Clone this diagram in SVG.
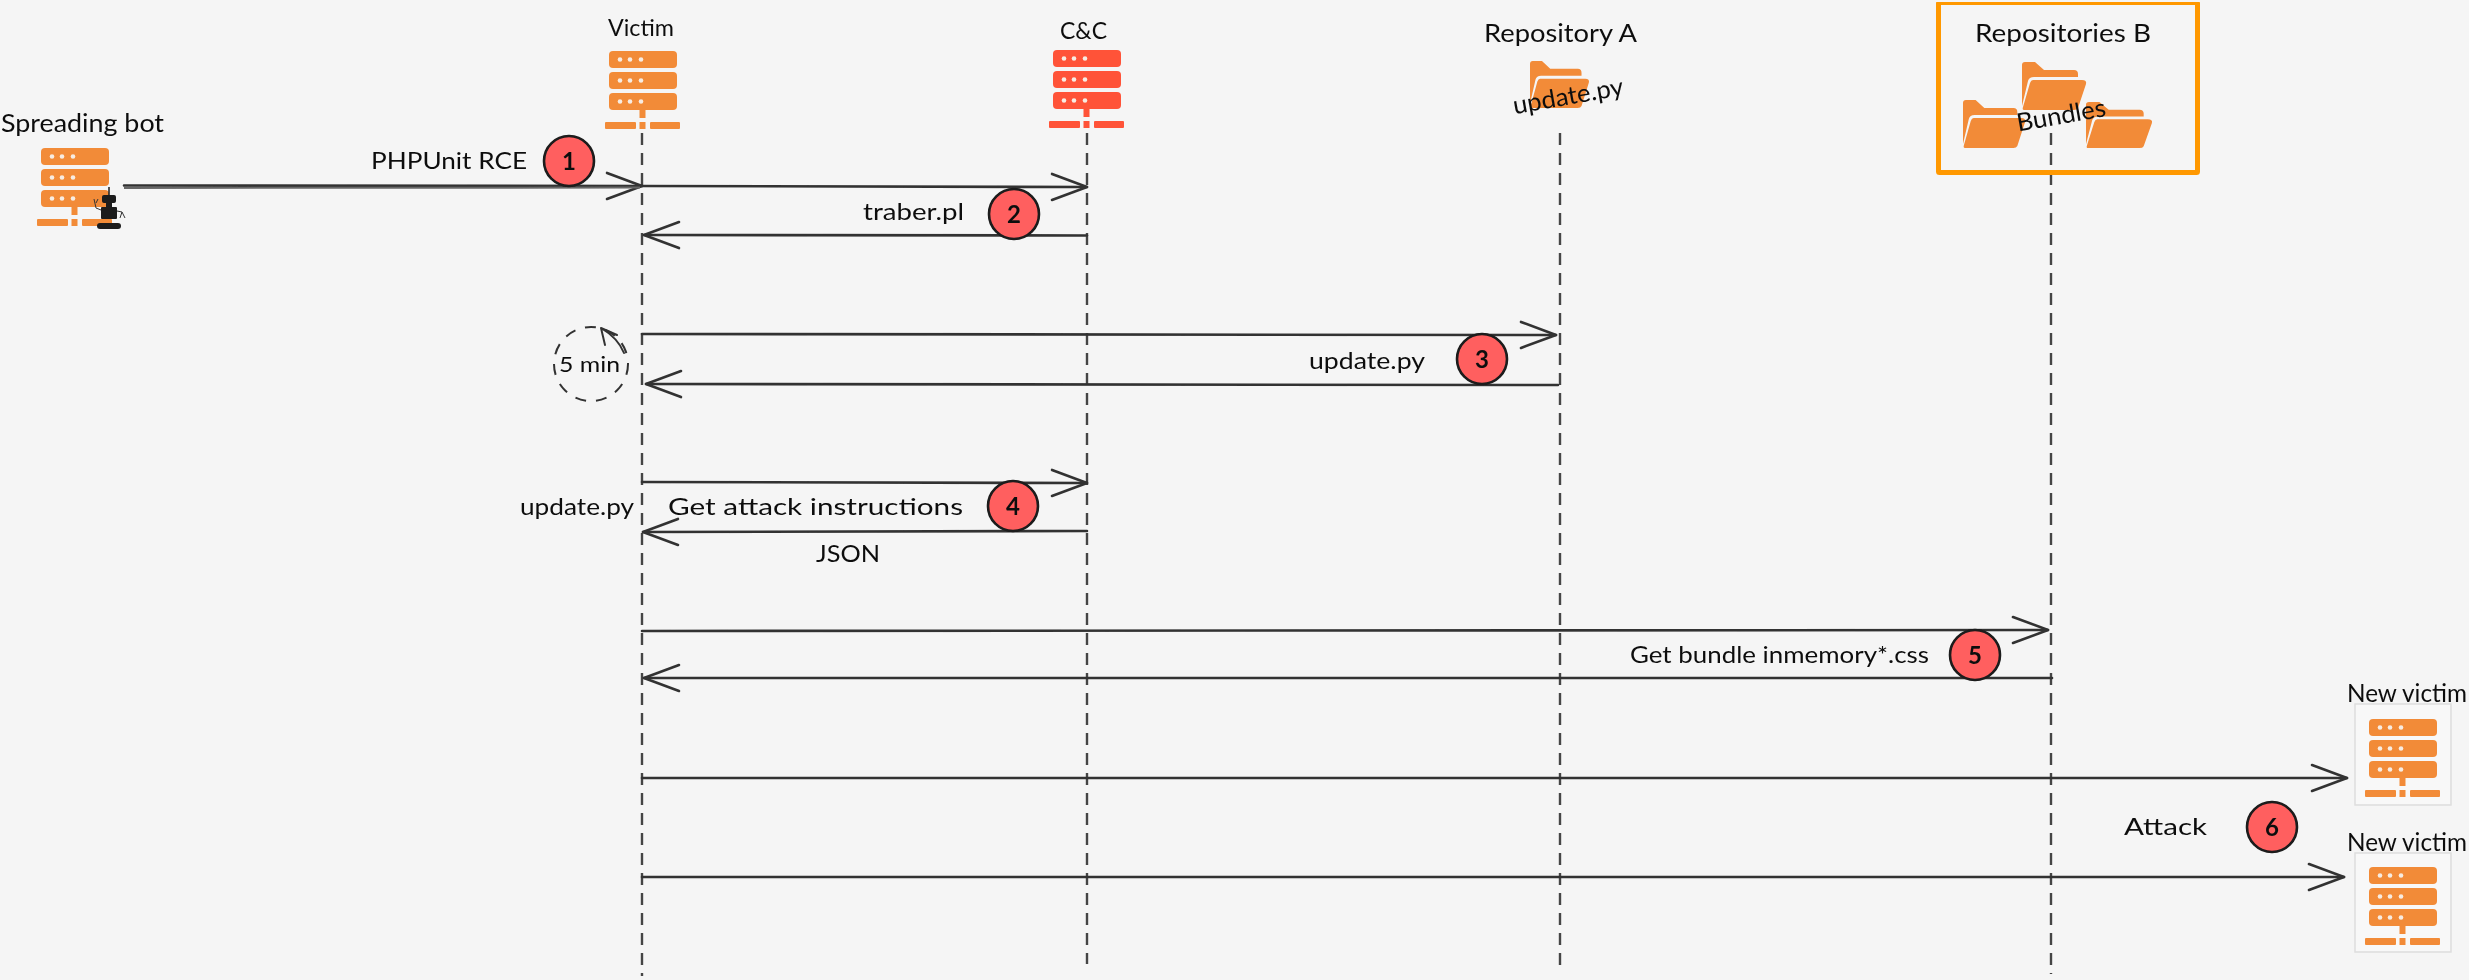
<svg xmlns="http://www.w3.org/2000/svg" width="2469" height="980" viewBox="0 0 2469 980">
<style>
text{font-family:"Lato","Noto Sans","Liberation Sans",sans-serif;fill:#111;font-size:24px;font-weight:400}
.big{font-size:25px}
.num{font-size:24px;text-anchor:middle;font-weight:700}
.life{fill:none;stroke:#444;stroke-width:2.4;stroke-dasharray:12 8}
.msg{fill:none;stroke:#333;stroke-width:2.6;stroke-linecap:round;marker-end:url(#open)}
.badge{fill:#ff5f5f;stroke:#1a1a1a;stroke-width:2.6}
.o{fill:#f28b38}.r{fill:#ff5238}
.card{fill:#f8f8f8;stroke:#ddd;stroke-width:1.5}
.dot{fill:#f7ece2}
</style>
<defs>
<filter id="soft" x="0" y="0" width="100%" height="100%"><feGaussianBlur stdDeviation="0.55"/></filter>
<marker id="open" markerUnits="userSpaceOnUse" markerWidth="50" markerHeight="40" refX="37" refY="15" orient="auto" overflow="visible">
<path d="M2 2L37 15L2 28" fill="none" stroke="#333" stroke-width="2.6" stroke-linecap="round" stroke-linejoin="round"/>
</marker>
<g id="srv">
<rect x="0" y="0" width="68" height="17" rx="4"/>
<rect x="0" y="21" width="68" height="17" rx="4"/>
<rect x="0" y="42" width="68" height="17" rx="4"/>
<rect x="30.500" y="59" width="6" height="8"/>
<rect x="-4" y="71" width="31" height="7" rx="1"/>
<rect x="30.500" y="71" width="6" height="7"/>
<rect x="41" y="71" width="30" height="7" rx="1"/>
<g class="dot">
<circle cx="11" cy="8.500" r="2.300"/><circle cx="21" cy="8.500" r="2.300"/><circle cx="32" cy="8.500" r="2.300"/>
<circle cx="11" cy="29.500" r="2.300"/><circle cx="21" cy="29.500" r="2.300"/><circle cx="32" cy="29.500" r="2.300"/>
<circle cx="11" cy="50.500" r="2.300"/><circle cx="21" cy="50.500" r="2.300"/><circle cx="32" cy="50.500" r="2.300"/>
</g>
</g>
<g id="fold">
<path d="M0 3Q0 0 3 0H13L22 8H52Q56 8 56 12V15H12Q7 15 6 19L0 44Z"/>
<path d="M11 18H60Q65 18 64 22L56 46Q55 48 52 48H2Q0 48 1 45L8 21Q9 18 11 18Z"/>
</g>
</defs>
<rect width="2469" height="980" fill="#f5f5f5"/>
<g filter="url(#soft)">
<g id="connectors">
<path class="life" d="M642 133V976"/>
<path class="life" d="M1087 133V964"/>
<path class="life" d="M1560 133V968"/>
<path class="life" d="M2051 133V974"/>
<path class="msg" d="M124 185.500L642 186"/>
<path d="M124 188L640 187.500" fill="none" stroke="#666" stroke-width="2"/>
<path class="msg" d="M642 186L1087 187"/>
<path class="msg" d="M1087 235.500L644 235"/>
<path class="msg" d="M642 334L1556 335"/>
<path class="msg" d="M1558 385L646 384"/>
<path class="msg" d="M642 482L1087 483"/>
<path class="msg" d="M1087 531L643 532"/>
<path class="msg" d="M642 631L2048 630"/>
<path class="msg" d="M2052 678L644 678"/>
<path class="msg" d="M642 778L2347 778"/>
<path class="msg" d="M642 877L2344 877"/>
</g>

<g id="spreading-bot">
<text x="1" y="132" textLength="163" lengthAdjust="spacingAndGlyphs" class="big">Spreading bot</text>
<use href="#srv" class="o" transform="translate(41 148)"/>
<g id="robot" fill="#1c1c1c">
<path d="M109 187V195" stroke="#1c1c1c" stroke-width="1.500"/>
<rect x="102" y="195" width="14" height="8" rx="2"/>
<rect x="101" y="207" width="16" height="12" rx="1"/>
<rect x="106" y="203" width="6" height="4"/>
<rect x="97" y="223" width="24" height="6" rx="3"/>
<path d="M94 199L96 208L101 210M98 199L96 203M117 211L122 212L125 218M122 212L120 218" fill="none" stroke="#333" stroke-width="1"/>
</g>
</g>

<g id="victim">
<text x="608" y="36" textLength="66" lengthAdjust="spacingAndGlyphs">Victim</text>
<use href="#srv" class="o" transform="translate(609 51)"/>
</g>

<g id="cc">
<text x="1060" y="39" textLength="47" lengthAdjust="spacingAndGlyphs" font-weight="700">C&amp;C</text>
<use href="#srv" class="r" transform="translate(1053 50)"/>
</g>

<g id="repo-a">
<text x="1484" y="42" textLength="153" lengthAdjust="spacingAndGlyphs" class="big">Repository A</text>
<use href="#fold" class="o" transform="translate(1530 61) scale(.92 .98)"/>
<text x="1512" y="105" textLength="112" lengthAdjust="spacingAndGlyphs" class="big" transform="rotate(-10 1566 96)">update.py</text>
</g>

<g id="repos-b">
<rect x="1938.500" y="2.500" width="259" height="170" fill="none" stroke="#ff9800" stroke-width="5" rx="1"/>
<text x="1975" y="42" textLength="176" lengthAdjust="spacingAndGlyphs" class="big">Repositories B</text>
<use href="#fold" class="o" transform="translate(2022 62)"/>
<use href="#fold" class="o" transform="translate(1963 100) scale(.97 1)"/>
<use href="#fold" class="o" transform="translate(2086 102) scale(1.03 .96)"/>
<text x="2016" y="124" textLength="90" lengthAdjust="spacingAndGlyphs" class="big" transform="rotate(-10 2060 115)">Bundles</text>
</g>

<g id="new-victim-1">
<text x="2347" y="702" textLength="120" lengthAdjust="spacingAndGlyphs" class="big">New victim</text>
<rect class="card" x="2355" y="704" width="96" height="101"/>
<use href="#srv" class="o" transform="translate(2369 719)"/>
</g>
<g id="new-victim-2">
<text x="2347" y="851" textLength="120" lengthAdjust="spacingAndGlyphs" class="big">New victim</text>
<rect class="card" x="2355" y="853" width="96" height="99"/>
<use href="#srv" class="o" transform="translate(2369 867)"/>
</g>

<g id="timer">
<circle cx="591" cy="364" r="37" fill="none" stroke="#333" stroke-width="2" stroke-dasharray="11 10"/>
<text x="559" y="372" textLength="61" lengthAdjust="spacingAndGlyphs" style="font-size:22px">5 min</text>
<path d="M624 353Q618 338 601 328M601 328L605 345M601 328L617 335" fill="none" stroke="#333" stroke-width="2" stroke-linecap="round"/>
</g>

<g id="labels">
<text x="371" y="169" textLength="156" lengthAdjust="spacingAndGlyphs">PHPUnit RCE</text>
<text x="863" y="220" textLength="101" lengthAdjust="spacingAndGlyphs">traber.pl</text>
<text x="1309" y="369" textLength="116" lengthAdjust="spacingAndGlyphs">update.py</text>
<text x="520" y="515" textLength="114" lengthAdjust="spacingAndGlyphs">update.py</text>
<text x="668" y="515" textLength="295" lengthAdjust="spacingAndGlyphs">Get attack instructions</text>
<text x="816" y="562" textLength="64" lengthAdjust="spacingAndGlyphs">JSON</text>
<text x="1630" y="663" textLength="299" lengthAdjust="spacingAndGlyphs">Get bundle inmemory*.css</text>
<text x="2124" y="835" textLength="83" lengthAdjust="spacingAndGlyphs">Attack</text>
</g>

<g id="badge-1"><circle class="badge" cx="569" cy="161" r="25"/><text class="num" x="569" y="170">1</text></g>
<g id="badge-2"><circle class="badge" cx="1014" cy="214" r="25"/><text class="num" x="1014" y="223">2</text></g>
<g id="badge-3"><circle class="badge" cx="1482" cy="359" r="25"/><text class="num" x="1482" y="368">3</text></g>
<g id="badge-4"><circle class="badge" cx="1013" cy="506" r="25"/><text class="num" x="1013" y="515">4</text></g>
<g id="badge-5"><circle class="badge" cx="1975" cy="655" r="25"/><text class="num" x="1975" y="664">5</text></g>
<g id="badge-6"><circle class="badge" cx="2272" cy="827" r="25"/><text class="num" x="2272" y="836">6</text></g>
</g>
</svg>
